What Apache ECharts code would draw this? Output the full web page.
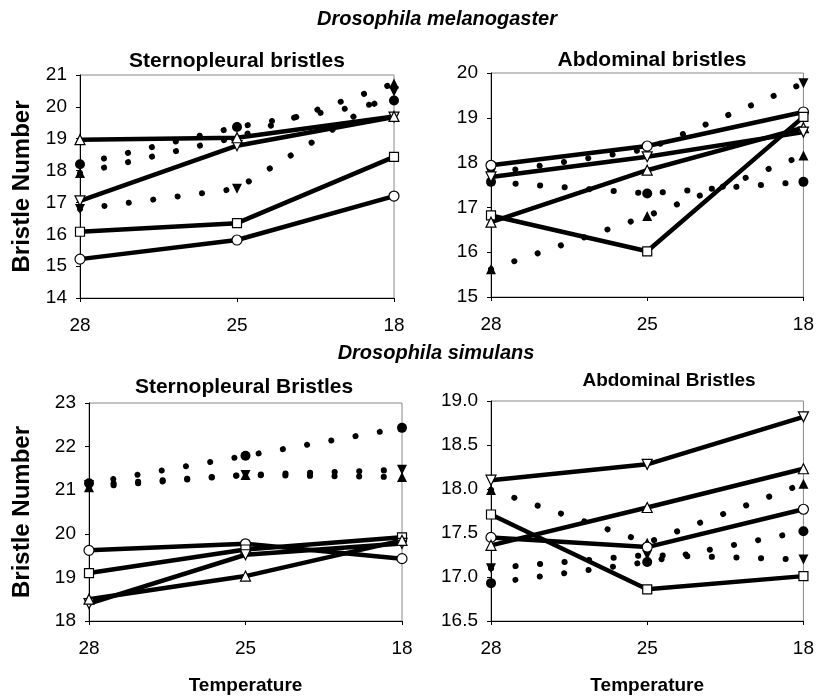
<!DOCTYPE html>
<html><head><meta charset="utf-8">
<script src="https://cdn.jsdelivr.net/npm/echarts@6/dist/echarts.min.js"></script>
<style>html,body{margin:0;padding:0;background:#fff}#c{width:817px;height:696px}</style>
</head><body><div id="c"></div>
<script>
// Temperature categories (°C, hot to cold)
const temps = ['28', '25', '18'];

// D. melanogaster – sternopleural bristles
const melSternOpenCircle   = [15.22, 15.82, 17.2];
const melSternOpenSquare   = [16.08, 16.35, 18.43];
const melSternOpenTriDown  = [17.05, 18.78, 19.68];
const melSternOpenTriUp    = [18.97, 19.03, 19.7];
const melSternFilledCircle = [18.2, 19.37, 20.2];
const melSternFilledTriUp  = [17.92, 19.05, 20.73];
const melSternFilledTriDown= [16.79, 17.43, 20.48];

// D. melanogaster – abdominal bristles
const melAbdOpenCircle     = [17.94, 18.37, 19.13];
const melAbdOpenSquare     = [16.82, 16.02, 19.02];
const melAbdOpenTriUp      = [16.67, 17.83, 18.78];
const melAbdOpenTriDown    = [17.68, 18.13, 18.68];
const melAbdFilledCircle   = [17.57, 17.31, 17.57];
const melAbdFilledTriUp    = [15.62, 16.81, 18.16];
const melAbdFilledTriDown  = [17.76, 18.3, 19.77];

// D. simulans – sternopleural bristles
const simSternOpenCircle   = [19.62, 19.77, 19.43];
const simSternOpenSquare   = [19.1, 19.64, 19.92];
const simSternOpenTriDown  = [18.4, 19.52, 19.78];
const simSternOpenTriUp    = [18.5, 19.03, 19.85];
const simSternFilledCircle = [21.16, 21.79, 22.43];
const simSternFilledTriUp  = [21.07, 21.35, 21.3];
const simSternFilledTriDown= [21.12, 21.35, 21.47];

// D. simulans – abdominal bristles
const simAbdOpenCircle     = [17.45, 17.34, 17.77];
const simAbdOpenSquare     = [17.71, 16.86, 17.01];
const simAbdOpenTriUp      = [17.36, 17.79, 18.23];
const simAbdOpenTriDown    = [18.1, 18.28, 18.82];
const simAbdFilledCircle   = [16.93, 17.17, 17.52];
const simAbdFilledTriUp    = [17.99, 17.39, 18.06];
const simAbdFilledTriDown  = [17.1, 17.25, 17.2];

// y-axis ranges [min, max, interval]
const melSternY = [14, 21, 1];
const melAbdY   = [15, 20, 1];
const simSternY = [18, 23, 1];
const simAbdY   = [16.5, 19, 0.5];

const FONT = 'Liberation Sans, Arial, Helvetica, sans-serif';

const grids = [
  {left: 80, top: 75, width: 314, height: 223},
  {left: 491, top: 73, width: 313, height: 224},
  {left: 89, top: 403, width: 313, height: 222},
  {left: 491, top: 401, width: 313, height: 222}
].map(g => Object.assign(g, {show: true, borderColor: '#888', borderWidth: 1, backgroundColor: 'transparent'}));

function xAx(i, withName) {
  const a = {
    type: 'category', gridIndex: i, data: temps, boundaryGap: false,
    axisLine: {lineStyle: {color: '#000', width: 1}},
    axisTick: {show: true, length: 4, lineStyle: {color: '#000'}},
    axisLabel: {color: '#000', fontSize: 19, margin: 18, fontFamily: FONT},
    splitLine: {show: false}
  };
  if (withName) {
    Object.assign(a, {name: 'Temperature', nameLocation: 'middle', nameGap: 55,
      nameTextStyle: {color: '#000', fontSize: 19, fontWeight: 'bold', fontFamily: FONT}});
  }
  return a;
}
function yAx(i, r, nameGap, decimals) {
  const a = {
    type: 'value', gridIndex: i, min: r[0], max: r[1], interval: r[2],
    axisLine: {show: true, lineStyle: {color: '#000', width: 1}},
    axisTick: {show: true, length: 4, lineStyle: {color: '#000'}},
    axisLabel: {color: '#000', fontSize: 19, margin: 13, fontFamily: FONT,
      formatter: v => v.toFixed(decimals)},
    splitLine: {show: false}
  };
  if (nameGap) {
    Object.assign(a, {name: 'Bristle Number', nameLocation: 'middle', nameGap: nameGap, nameRotate: 90,
      nameTextStyle: {color: '#000', fontSize: 24, fontWeight: 'bold', fontFamily: FONT}});
  }
  return a;
}

const SHAPES = {
  circle: {symbol: 'circle', rot: 0, size: 10},
  square: {symbol: 'rect', rot: 0, size: 9},
  triUp: {symbol: 'triangle', rot: 0, size: 10},
  triDown: {symbol: 'triangle', rot: 180, size: 10}
};

function openS(i, data, shape) {
  const s = SHAPES[shape];
  return {type: 'line', xAxisIndex: i, yAxisIndex: i, data: data,
    symbol: s.symbol, symbolRotate: s.rot, symbolSize: s.size, showAllSymbol: true,
    lineStyle: {color: '#000', width: 4.5},
    itemStyle: {color: '#fff', borderColor: '#000', borderWidth: 1.2},
    z: 4, animation: false, silent: true, clip: false};
}
function filledS(i, data, shape) {
  const s = SHAPES[shape];
  return {type: 'line', xAxisIndex: i, yAxisIndex: i, data: data,
    symbol: s.symbol, symbolRotate: s.rot, symbolSize: s.size, showAllSymbol: true,
    lineStyle: {color: '#000', width: 6, type: [0.1, 24.5], cap: 'round'},
    itemStyle: {color: '#000', borderColor: '#000', borderWidth: 0},
    z: 3, animation: false, silent: true, clip: false};
}

const series = [
  filledS(0, melSternFilledCircle, 'circle'),
  filledS(0, melSternFilledTriUp, 'triUp'),
  filledS(0, melSternFilledTriDown, 'triDown'),
  openS(0, melSternOpenCircle, 'circle'),
  openS(0, melSternOpenSquare, 'square'),
  openS(0, melSternOpenTriDown, 'triDown'),
  openS(0, melSternOpenTriUp, 'triUp'),

  filledS(1, melAbdFilledCircle, 'circle'),
  filledS(1, melAbdFilledTriUp, 'triUp'),
  filledS(1, melAbdFilledTriDown, 'triDown'),
  openS(1, melAbdOpenCircle, 'circle'),
  openS(1, melAbdOpenSquare, 'square'),
  openS(1, melAbdOpenTriUp, 'triUp'),
  openS(1, melAbdOpenTriDown, 'triDown'),

  filledS(2, simSternFilledCircle, 'circle'),
  filledS(2, simSternFilledTriUp, 'triUp'),
  filledS(2, simSternFilledTriDown, 'triDown'),
  openS(2, simSternOpenCircle, 'circle'),
  openS(2, simSternOpenSquare, 'square'),
  openS(2, simSternOpenTriDown, 'triDown'),
  openS(2, simSternOpenTriUp, 'triUp'),

  filledS(3, simAbdFilledCircle, 'circle'),
  filledS(3, simAbdFilledTriUp, 'triUp'),
  filledS(3, simAbdFilledTriDown, 'triDown'),
  openS(3, simAbdOpenCircle, 'circle'),
  openS(3, simAbdOpenSquare, 'square'),
  openS(3, simAbdOpenTriUp, 'triUp'),
  openS(3, simAbdOpenTriDown, 'triDown')
];

function ttl(text, x, y, size, italic) {
  return {text: text, left: x, top: y, textAlign: 'center', padding: 0,
    textStyle: {color: '#000', fontSize: size, fontWeight: 'bold', fontStyle: italic ? 'italic' : 'normal', fontFamily: FONT}};
}

const chart = echarts.init(document.getElementById('c'), null, {renderer: 'canvas'});
chart.setOption({
  backgroundColor: '#fff',
  animation: false,
  title: [
    ttl('Drosophila melanogaster', 437, 9, 20, true),
    ttl('Sternopleural bristles', 237, 51, 21, false),
    ttl('Abdominal bristles', 652, 50, 21, false),
    ttl('Drosophila simulans', 436, 343, 20, true),
    ttl('Sternopleural Bristles', 244, 377, 21, false),
    ttl('Abdominal Bristles', 669, 371, 19, false)
  ],
  grid: grids,
  xAxis: [xAx(0, false), xAx(1, false), xAx(2, true), xAx(3, true)],
  yAxis: [yAx(0, melSternY, 46, 0), yAx(1, melAbdY, 0, 0), yAx(2, simSternY, 55, 0), yAx(3, simAbdY, 0, 1)],
  series: series
});
</script>
</body></html>
